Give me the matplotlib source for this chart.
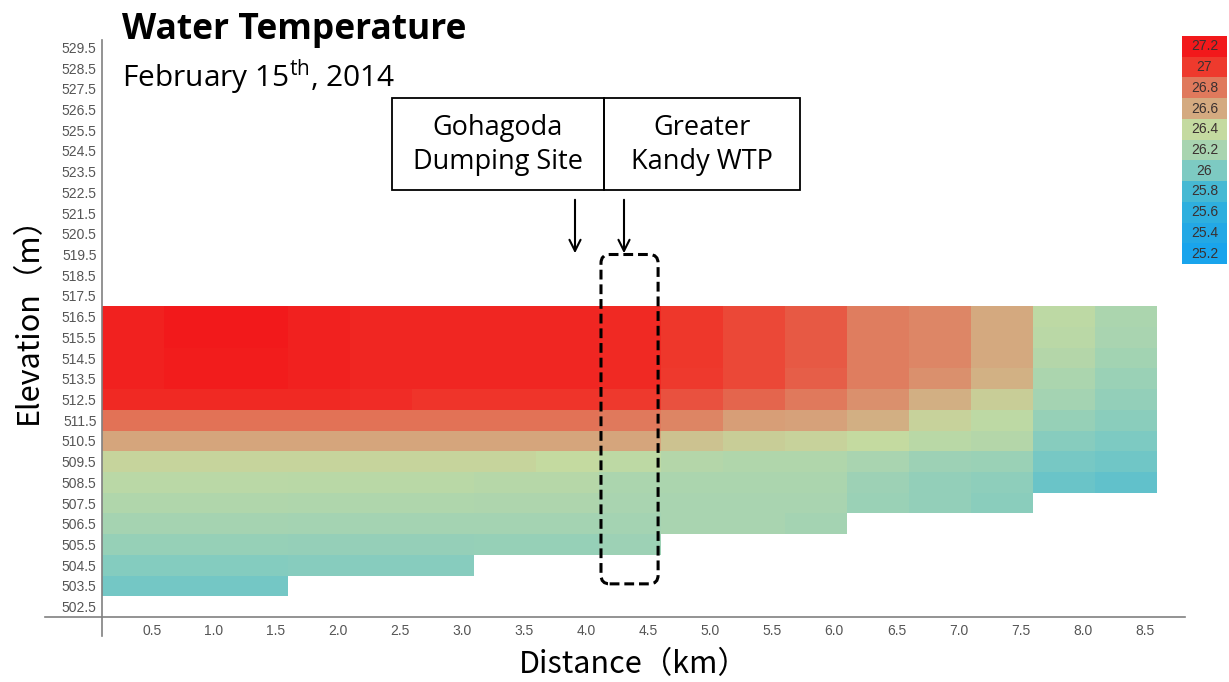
import numpy as np
import matplotlib

matplotlib.use("Agg")
import matplotlib.pyplot as plt
from matplotlib.colors import LinearSegmentedColormap, Normalize
from matplotlib.patches import FancyBboxPatch, Rectangle, FancyArrowPatch

plt.rcParams["mathtext.fontset"] = "custom"
plt.rcParams["mathtext.rm"] = "Open Sans"

# distance (km) = right edge of each 0.5 km column
distance = [0.5, 1.0, 1.5, 2.0, 2.5, 3.0, 3.5, 4.0, 4.5, 5.0, 5.5, 6.0, 6.5, 7.0, 7.5, 8.0, 8.5]
# elevation (m) of each layer, top to bottom
elevation = [516.5, 515.5, 514.5, 513.5, 512.5, 511.5, 510.5, 509.5, 508.5, 507.5, 506.5, 505.5, 504.5, 503.5]

N = None
temp = [
    [27.15, 27.20, 27.20, 27.15, 27.12, 27.12, 27.12, 27.12, 27.10, 27.02, 26.95, 26.90, 26.78, 26.74, 26.60, 26.35, 26.22],
    [27.15, 27.20, 27.20, 27.15, 27.12, 27.12, 27.12, 27.12, 27.10, 27.02, 26.95, 26.90, 26.78, 26.74, 26.60, 26.33, 26.20],
    [27.15, 27.18, 27.18, 27.15, 27.12, 27.12, 27.12, 27.12, 27.10, 27.02, 26.95, 26.90, 26.78, 26.74, 26.60, 26.28, 26.17],
    [27.15, 27.18, 27.18, 27.15, 27.12, 27.12, 27.12, 27.12, 27.10, 27.00, 26.95, 26.88, 26.78, 26.70, 26.57, 26.22, 26.13],
    [27.10, 27.10, 27.10, 27.10, 27.08, 27.03, 27.03, 27.03, 27.00, 26.92, 26.86, 26.80, 26.70, 26.58, 26.45, 26.18, 26.10],
    [26.82, 26.82, 26.82, 26.82, 26.82, 26.82, 26.82, 26.82, 26.80, 26.75, 26.65, 26.63, 26.58, 26.43, 26.35, 26.12, 26.06],
    [26.62, 26.62, 26.62, 26.62, 26.62, 26.62, 26.62, 26.62, 26.62, 26.50, 26.45, 26.43, 26.40, 26.32, 26.28, 26.05, 26.00],
    [26.42, 26.42, 26.42, 26.42, 26.42, 26.42, 26.42, 26.40, 26.35, 26.28, 26.26, 26.26, 26.20, 26.15, 26.13, 25.98, 25.95],
    [26.33, 26.33, 26.33, 26.32, 26.32, 26.32, 26.30, 26.30, 26.22, 26.22, 26.22, 26.22, 26.15, 26.10, 26.08, 25.93, 25.90],
    [26.26, 26.26, 26.26, 26.25, 26.25, 26.25, 26.24, 26.24, 26.20, 26.20, 26.20, 26.20, 26.13, 26.10, 26.06, N, N],
    [26.19, 26.19, 26.19, 26.18, 26.18, 26.18, 26.18, 26.18, 26.18, 26.20, 26.20, 26.18, N, N, N, N, N],
    [26.12, 26.12, 26.12, 26.11, 26.11, 26.11, 26.12, 26.12, 26.15, N, N, N, N, N, N, N, N],
    [26.03, 26.03, 26.03, 26.05, 26.05, 26.05, N, N, N, N, N, N, N, N, N, N, N],
    [25.97, 25.97, 25.97, N, N, N, N, N, N, N, N, N, N, N, N, N, N],
]

legend_values = [27.2, 27.0, 26.8, 26.6, 26.4, 26.2, 26.0, 25.8, 25.6, 25.4, 25.2]
legend_labels = ["27.2", "27", "26.8", "26.6", "26.4", "26.2", "26", "25.8", "25.6", "25.4", "25.2"]
legend_colors = ["#f2191b", "#ee3a2d", "#e0795c", "#d4aa80", "#c4daa0", "#a8d4b0",
                 "#7dcac2", "#46b9d3", "#2eafde", "#23a8e5", "#19a4ec"]

W, H = 1229, 682
fig = plt.figure(figsize=(W / 100, H / 100), dpi=100)


def fx(x):
    return x / W


def fy(y):
    return 1 - y / H


narrow = ["Liberation Sans Narrow", "Liberation Sans", "DejaVu Sans"]
cjk = ["Noto Sans CJK JP", "DejaVu Sans"]

# colormap built from the legend swatches
lo, hi = min(legend_values), max(legend_values)
stops = sorted(zip(legend_values, legend_colors))
cmap = LinearSegmentedColormap.from_list(
    "wt", [((v - lo) / (hi - lo), c) for v, c in stops])
norm = Normalize(lo, hi)

ax = fig.add_axes([fx(102), fy(617), fx(1185 - 102), (617 - 37) / H])
z = np.array([[np.nan if v is None else v for v in row] for row in temp], dtype=float)
z = np.ma.masked_invalid(z[::-1])
d = np.array(distance)
x_edges = np.concatenate([[d[0] - 0.5], d])
e = np.array(elevation[::-1])
y_edges = np.concatenate([e - 0.5, [e[-1] + 0.5]])
ax.pcolormesh(x_edges, y_edges, z, cmap=cmap, norm=norm, shading="flat")

ax.set_xlim(0, 8.725)
ax.set_ylim(502.0, 530.0)
yt = np.arange(502.5, 530.0, 1.0)
ax.set_yticks(yt)
ax.set_yticklabels([f"{v:.1f}" for v in yt], fontfamily=narrow, fontsize=10, color="#555555")
ax.set_xticks(d - 0.1)
ax.set_xticklabels([f"{v:.1f}" for v in distance], fontfamily=narrow,
                   fontsize=10, color="#555555")
ax.tick_params(length=0, axis="y", pad=4)
ax.tick_params(length=0, axis="x", pad=5)
for s in ax.spines.values():
    s.set_visible(False)
ax.plot([0, 0], [-0.033, 0.995], transform=ax.transAxes, color="#808080", lw=1.2, clip_on=False)
ax.plot([-0.053, 1.0], [0, 0], transform=ax.transAxes, color="#808080", lw=1.2, clip_on=False)

# dashed outline around the WTP column
box = FancyBboxPatch((4.02, 503.6), 0.46, 15.9,
                     boxstyle="round,pad=0,rounding_size=0.07", mutation_aspect=6,
                     fill=False, ec="black", lw=2.2, ls=(0, (3.2, 1.6)), clip_on=False)
ax.add_patch(box)

fig.text(fx(28), fy(312), "Elevation（m）", rotation=90, ha="center", va="center",
         fontsize=22, family=cjk)
fig.text(fx(634), fy(665), "Distance（km）", ha="center", va="center",
         fontsize=22, family=cjk)

fig.text(fx(122), fy(39), "Water Temperature", ha="left", va="baseline",
         fontsize=25.5, fontweight="bold", family="Open Sans")
fig.text(fx(122), fy(87), r"February 15$^{\mathrm{th}}$, 2014", ha="left", va="baseline",
         fontsize=21.5, family="Open Sans")

# site labels with arrows
for x0, x1, label in [(392, 604, "Gohagoda\nDumping Site"), (604, 800, "Greater\nKandy WTP")]:
    fig.patches.append(Rectangle((fx(x0), fy(190)), fx(x1 - x0), 92 / H, fill=False,
                                 ec="black", lw=1.3, transform=fig.transFigure))
    fig.text(fx((x0 + x1) / 2), fy(145), label, ha="center", va="center",
             fontsize=19.5, family="Open Sans", linespacing=1.25)
for xa in [575, 624]:
    fig.add_artist(FancyArrowPatch(
        (fx(xa), fy(197)), (fx(xa), fy(256)), transform=fig.transFigure,
        arrowstyle="->", mutation_scale=20, lw=1.5, color="black"))

# colour legend
lax = fig.add_axes([fx(1182), fy(264), fx(45), 228 / H])
n = len(legend_values)
lax.barh(range(n), [1] * n, height=1.0, color=legend_colors, edgecolor="none")
for i, lab in enumerate(legend_labels):
    lax.text(0.5, i, lab, ha="center", va="center", fontsize=10,
             family=narrow, color="#3a3030")
lax.set_xlim(0, 1)
lax.set_ylim(n - 0.5, -0.5)
lax.axis("off")

fig.savefig("out.png", dpi=100)
